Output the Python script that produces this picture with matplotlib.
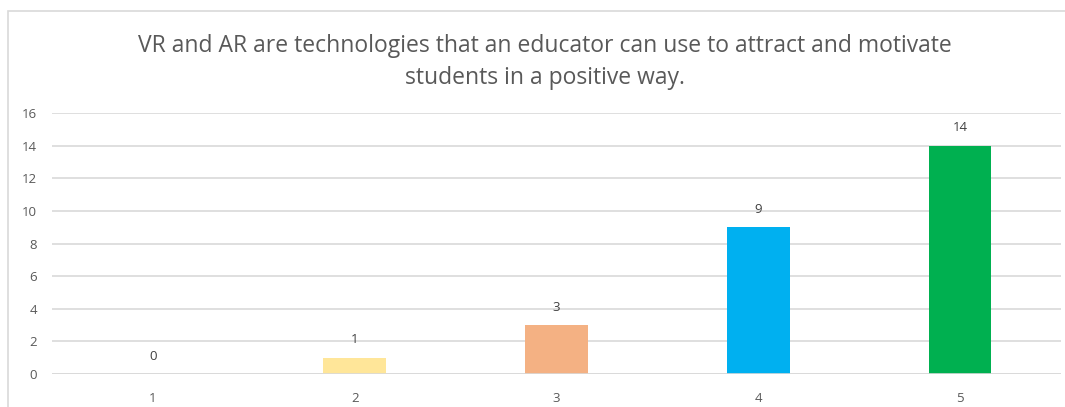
import matplotlib.pyplot as plt
from matplotlib.patches import Rectangle

# Likert responses (1 = strongly disagree ... 5 = strongly agree)
categories = ["1", "2", "3", "4", "5"]
counts = [0, 1, 3, 9, 14]
bar_colors = ["#5B9BD5", "#FFE699", "#F4B183", "#00B0F0", "#00B050"]
title = ("VR and AR are technologies that an educator can use to attract and motivate\n"
         "students in a positive way.")

plt.rcParams['font.family'] = ['Open Sans', 'DejaVu Sans']
text_color = "#595959"
grid_color = "#D9D9D9"

fig = plt.figure(figsize=(10.65, 4.07), dpi=100)
W, H = 1065, 407
ax = fig.add_axes([52 / W, 1 - 374 / H, (1061 - 52) / W, (374 - 113) / H])

x = range(len(categories))
ax.bar(x, counts, width=0.31, color=bar_colors, zorder=2)
for xi, v in zip(x, counts):
    ax.text(xi, v + 0.7, str(v), ha="center", va="bottom", fontsize=9.5, color="#404040")

ax.set_xlim(-0.5, len(categories) - 0.5)
ax.set_ylim(0, 16)
ax.set_yticks(range(0, 17, 2))
ax.set_xticks(list(x))
ax.set_xticklabels(categories)
ax.grid(axis="y", color=grid_color, linewidth=1.2, zorder=1)
ax.set_axisbelow(True)
ax.axhline(0, color=grid_color, linewidth=1.2, zorder=3)
for s in ax.spines.values():
    s.set_visible(False)
ax.tick_params(length=0, labelsize=9.5, colors=text_color)
ax.tick_params(axis="y", pad=11)
ax.tick_params(axis="x", pad=13)

fig.text(545 / W, 1 - 62 / H, title, ha="center", va="center", fontsize=16.5,
         color=text_color, linespacing=1.42)

# chart frame
fig.patches.append(Rectangle((8 / W, -0.05), 1.2, 1 - 11 / H + 0.05,
                             transform=fig.transFigure, fill=False,
                             edgecolor="#D9D9D9", linewidth=1.2))

fig.savefig("out.png", dpi=100)
